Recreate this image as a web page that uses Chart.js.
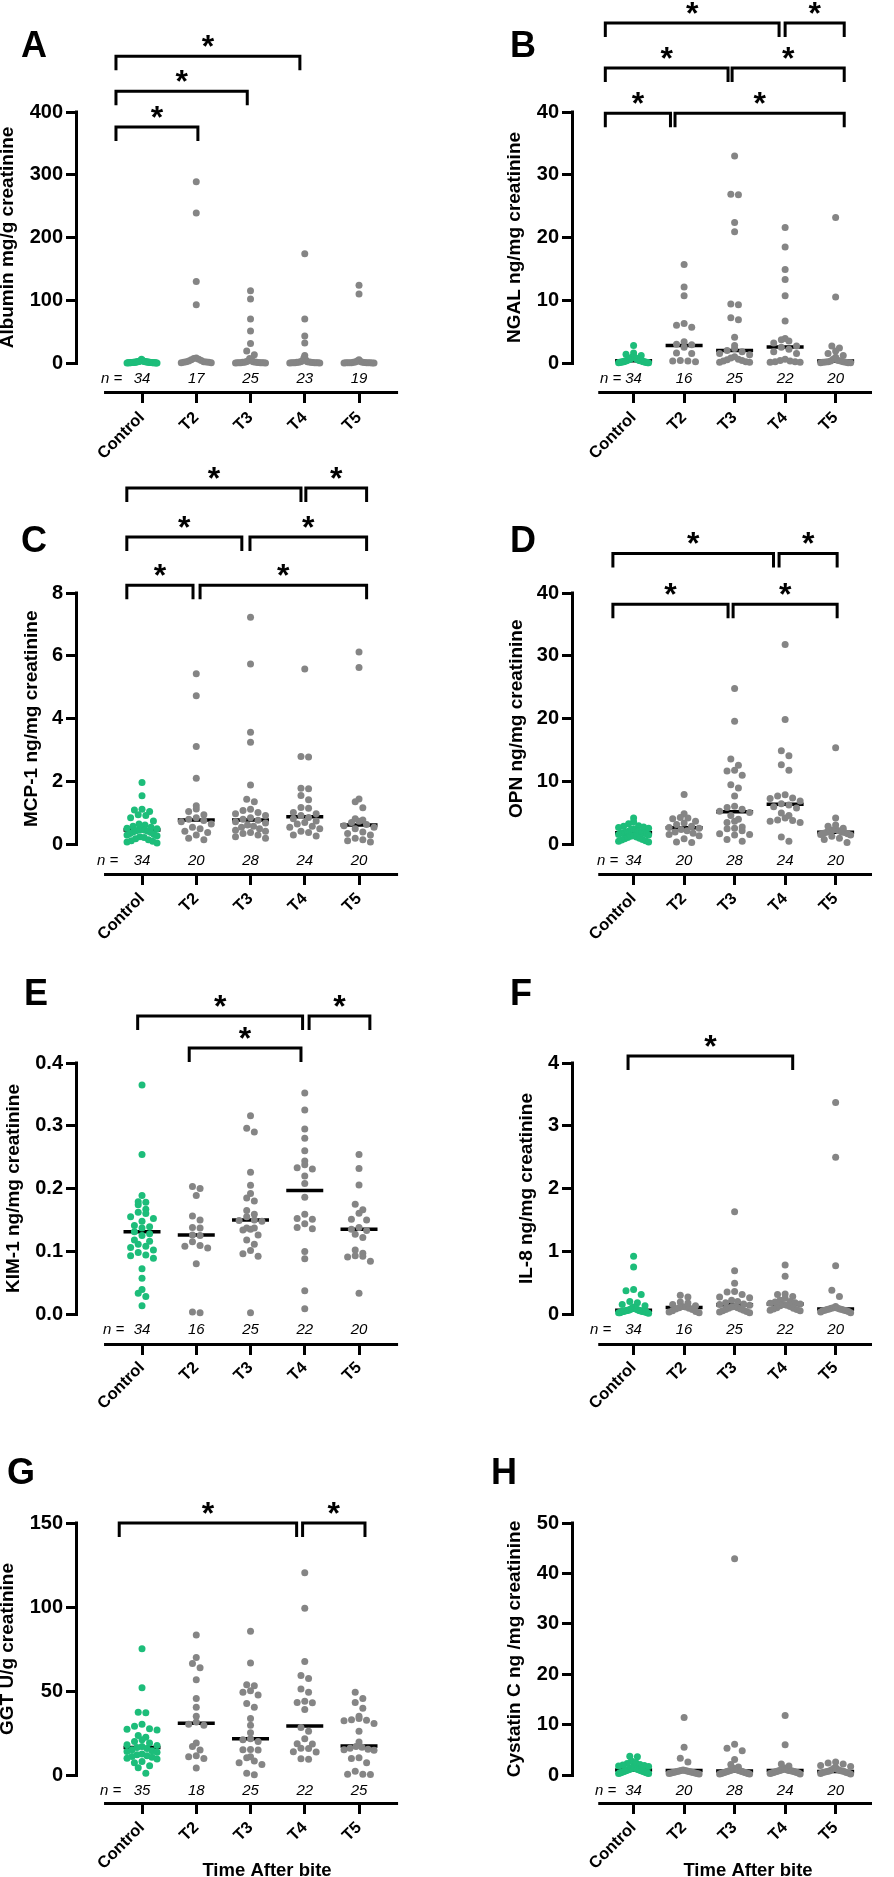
<!DOCTYPE html>
<html>
<head>
<meta charset="utf-8">
<script src="https://cdn.jsdelivr.net/npm/chart.js@4.4.1/dist/chart.umd.min.js"></script>
<style>
html,body{margin:0;padding:0;background:#fff;}
body{width:894px;height:1877px;position:relative;overflow:hidden;}
canvas{position:absolute;}
</style>
</head>
<body>
<script>
// ---------------- DATA ----------------
const categories = ['Control', 'T2', 'T3', 'T4', 'T5'];

// A – Albumin mg/g creatinine
const albuminValues = [
  [6,4,3.5,3,3,2.5,2.5,2,2,2,1.8,1.5,1.5,1.5,1.2,1.2,1,1,1,0.8,0.8,0.7,0.6,0.5,0.5,0.4,0.4,0.3,0.3,0.2,0.2,0.1,0.1,0.1],
  [289,239,130,93,8,7,6,5,4,3,2,2,1.5,1,1,0.5,0.3],
  [115,102,70,51,31,19,13,7,5,3,2,2,1.5,1,1,1,0.8,0.5,0.5,0.5,0.3,0.3,0.2,0.1,0.1],
  [174,70,43,32,12,8,5,3,2,2,1.5,1,1,1,0.8,0.5,0.5,0.4,0.3,0.3,0.2,0.1,0.1],
  [124,110,5,3,2,1.5,1,1,0.8,0.5,0.5,0.4,0.3,0.3,0.2,0.2,0.1,0.1,0.1]
];
const albuminMedians = [null, null, null, null, null];
const albuminN = [34, 17, 25, 23, 19];
const albuminTicks = [0, 100, 200, 300, 400];
const albuminTickLabels = ['0', '100', '200', '300', '400'];

// B – NGAL ng/mg creatinine
const ngalValues = [
  [2.8,1.6,1.4,1.2,1.0,1.0,0.9,0.8,0.8,0.7,0.6,0.6,0.5,0.5,0.5,0.4,0.4,0.4,0.3,0.3,0.3,0.3,0.2,0.2,0.2,0.2,0.15,0.1,0.1,0.1,0.1,0.05,0.05,0.02],
  [15.7,12.1,10.7,6.3,6.0,5.7,3.4,3.0,2.9,2.5,1.6,1.5,0.4,0.3,0.3,0.2],
  [33,26.9,26.8,22.4,20.9,9.4,9.3,7.2,6.9,4.1,2.8,2.3,2.0,1.8,1.5,1.3,1.0,0.8,0.6,0.5,0.4,0.3,0.2,0.1,0.1],
  [21.6,18.5,14.9,13.3,10.7,6.7,3.9,3.7,3.5,3.2,2.7,2.5,2.2,1.8,1.5,0.6,0.4,0.3,0.2,0.2,0.1,0.1],
  [23.2,10.5,2.7,2.4,1.9,1.5,1.2,0.9,0.6,0.4,0.3,0.3,0.2,0.2,0.15,0.1,0.1,0.05,0.05,0.02]
];
const ngalMedians = [0.35, 2.8, 2.0, 2.55, 0.3];
const ngalN = [34, 16, 25, 22, 20];
const ngalTicks = [0, 10, 20, 30, 40];
const ngalTickLabels = ['0', '10', '20', '30', '40'];

// C – MCP-1 ng/mg creatinine
const mcpValues = [
  [1.97,1.55,1.12,1.10,1.05,0.95,0.92,0.85,0.75,0.65,0.62,0.58,0.55,0.52,0.50,0.48,0.47,0.45,0.44,0.42,0.40,0.38,0.35,0.32,0.30,0.28,0.25,0.22,0.18,0.15,0.12,0.10,0.08,0.05],
  [5.43,4.73,3.12,2.11,1.23,1.13,1.05,0.95,0.85,0.80,0.76,0.72,0.65,0.55,0.50,0.42,0.38,0.30,0.20,0.15],
  [7.23,5.74,3.57,3.25,1.89,1.44,1.36,1.12,1.08,1.02,0.98,0.92,0.85,0.80,0.77,0.72,0.68,0.62,0.58,0.55,0.50,0.45,0.42,0.38,0.35,0.30,0.25,0.20],
  [5.58,2.80,2.78,1.79,1.77,1.56,1.42,1.18,1.15,1.02,0.98,0.92,0.86,0.82,0.75,0.70,0.65,0.58,0.55,0.50,0.42,0.38,0.30,0.27],
  [6.12,5.63,1.45,1.36,1.17,0.82,0.78,0.74,0.70,0.64,0.60,0.55,0.50,0.40,0.35,0.30,0.20,0.15,0.12,0.08]
];
const mcpMedians = [0.46, 0.78, 0.78, 0.88, 0.62];
const mcpN = [34, 20, 28, 24, 20];
const mcpTicks = [0, 2, 4, 6, 8];
const mcpTickLabels = ['0', '2', '4', '6', '8'];

// D – OPN ng/mg creatinine
const opnValues = [
  [4.2,3.6,3.3,3.0,2.9,2.8,2.7,2.6,2.5,2.4,2.3,2.2,2.1,2.0,2.0,1.9,1.9,1.85,1.8,1.8,1.7,1.6,1.5,1.4,1.3,1.2,1.1,1.0,0.9,0.8,0.7,0.6,0.5,0.4],
  [7.95,4.9,4.3,4.2,4.1,3.7,3.4,3.2,2.9,2.7,2.6,2.4,2.2,2.0,1.8,1.6,1.4,0.9,0.4,0.3],
  [24.8,19.6,13.6,12.6,11.8,11.7,11.0,9.5,9.0,7.7,6.1,5.9,5.6,5.3,5.1,4.6,4.0,3.7,3.5,2.8,2.6,2.5,2.2,1.7,1.6,1.5,0.8,0.5],
  [31.8,19.9,14.9,14.1,12.7,11.8,7.9,7.7,7.4,7.3,6.9,6.5,6.3,6.0,5.8,5.0,4.6,4.2,3.9,3.8,3.7,3.5,1.2,0.5],
  [15.4,4.2,3.1,2.9,2.6,2.4,2.3,2.2,2.1,2.0,1.95,1.9,1.8,1.7,1.6,1.5,1.3,1.0,0.8,0.3]
];
const opnMedians = [1.88, 2.65, 5.2, 6.4, 1.95];
const opnN = [34, 20, 28, 24, 20];
const opnTicks = [0, 10, 20, 30, 40];
const opnTickLabels = ['0', '10', '20', '30', '40'];

// E – KIM-1 ng/mg creatinine
const kimValues = [
  [0.365,0.254,0.189,0.179,0.178,0.174,0.167,0.162,0.160,0.155,0.152,0.148,0.141,0.139,0.137,0.131,0.128,0.125,0.118,0.116,0.111,0.108,0.106,0.102,0.098,0.094,0.093,0.089,0.072,0.057,0.039,0.033,0.028,0.013],
  [0.203,0.200,0.189,0.156,0.150,0.138,0.137,0.126,0.125,0.115,0.109,0.108,0.105,0.080,0.002,0.003],
  [0.316,0.296,0.290,0.226,0.205,0.192,0.185,0.180,0.165,0.159,0.155,0.150,0.149,0.148,0.137,0.137,0.135,0.134,0.126,0.118,0.111,0.101,0.096,0.092,0.002],
  [0.352,0.325,0.295,0.280,0.260,0.244,0.238,0.233,0.231,0.220,0.208,0.186,0.159,0.152,0.151,0.144,0.138,0.136,0.0996,0.088,0.037,0.0085],
  [0.254,0.232,0.2055,0.175,0.166,0.1605,0.151,0.150,0.138,0.133,0.127,0.122,0.102,0.097,0.093,0.092,0.091,0.084,0.033,0.135]
];
const kimMedians = [0.131, 0.126, 0.150, 0.197, 0.135];
const kimN = [34, 16, 25, 22, 20];
const kimTicks = [0, 0.1, 0.2, 0.3, 0.4];
const kimTickLabels = ['0.0', '0.1', '0.2', '0.3', '0.4'];

// F – IL-8 ng/mg creatinine
const il8Values = [
  [0.92,0.75,0.39,0.37,0.31,0.20,0.18,0.15,0.13,0.11,0.10,0.09,0.08,0.08,0.07,0.07,0.06,0.06,0.06,0.05,0.05,0.05,0.05,0.04,0.04,0.04,0.04,0.03,0.03,0.03,0.02,0.02,0.02,0.01],
  [0.30,0.27,0.19,0.175,0.15,0.13,0.12,0.11,0.10,0.09,0.08,0.07,0.05,0.04,0.03,0.02],
  [1.63,0.69,0.49,0.36,0.35,0.31,0.27,0.26,0.22,0.20,0.18,0.16,0.15,0.14,0.12,0.11,0.10,0.09,0.08,0.07,0.06,0.05,0.04,0.03,0.02],
  [0.78,0.60,0.32,0.31,0.28,0.25,0.22,0.20,0.19,0.18,0.17,0.16,0.15,0.14,0.13,0.12,0.10,0.09,0.08,0.07,0.06,0.05],
  [3.37,2.50,0.77,0.38,0.28,0.12,0.10,0.09,0.09,0.08,0.08,0.07,0.07,0.06,0.06,0.05,0.05,0.04,0.03,0.02]
];
const il8Medians = [0.06, 0.105, 0.148, 0.16, 0.08];
const il8N = [34, 16, 25, 22, 20];
const il8Ticks = [0, 1, 2, 3, 4];
const il8TickLabels = ['0', '1', '2', '3', '4'];

// G – GGT U/g creatinine
const ggtValues = [
  [75.1,52.0,37.4,37.0,30.2,29.0,27.6,27.2,26.8,23.5,22.5,21.0,20.0,19.0,18.0,17.5,17.0,16.3,15.8,15.0,14.5,14.0,13.5,12.5,12.0,11.5,11.0,10.5,10.0,9.5,8.0,7.3,5.5,4.3,1.0],
  [83.3,70.0,66.3,63.9,56.7,45.5,40.4,34.9,31.6,30.2,29.6,19.0,16.9,14.9,11.4,10.8,9.8,4.1],
  [85.5,66.7,53.7,53.1,50.2,49.2,47.6,42.5,40.4,33.7,29.6,25.1,21.6,21.0,20.0,14.9,15.0,15.2,10.8,10.2,8.4,7.3,6.3,0.2,1.0],
  [120.4,99.2,67.6,59.2,57.4,51.2,49.2,43.9,43.1,43.0,39.0,28.2,26.1,21.6,18.6,18.4,15.9,15.8,13.9,13.7,9.4,9.6],
  [49.2,45.5,43.1,39.8,34.9,33.7,32.9,32.6,32.3,30.6,26.1,19.6,17.0,16.5,15.9,15.3,15.0,14.8,10.2,9.8,7.3,2.2,0.5,0.4,0.3]
];
const ggtMedians = [16.3, 30.8, 21.6, 29.2, 17.3];
const ggtN = [35, 18, 25, 22, 25];
const ggtTicks = [0, 50, 100, 150];
const ggtTickLabels = ['0', '50', '100', '150'];

// H – Cystatin C ng /mg creatinine
const cysValues = [
  [3.7,3.6,2.8,2.5,2.3,2.1,2.0,1.9,1.8,1.7,1.6,1.5,1.4,1.3,1.2,1.2,1.1,1.1,1.0,1.0,0.9,0.9,0.8,0.8,0.7,0.7,0.6,0.6,0.5,0.5,0.4,0.4,0.3,0.3],
  [11.4,5.5,3.3,2.6,1.0,0.9,0.9,0.8,0.8,0.7,0.7,0.6,0.6,0.5,0.5,0.4,0.4,0.3,0.3,0.2],
  [42.9,6.1,5.3,4.8,3.1,2.1,1.6,1.3,1.2,1.1,1.0,1.0,0.9,0.9,0.8,0.8,0.7,0.7,0.6,0.6,0.5,0.5,0.4,0.4,0.3,0.3,0.2,0.2],
  [11.8,6.0,2.2,1.8,1.4,1.2,1.1,1.0,1.0,0.9,0.9,0.85,0.8,0.8,0.7,0.7,0.6,0.6,0.5,0.5,0.4,0.4,0.3,0.2],
  [2.6,2.4,2.2,1.9,1.7,1.5,1.3,1.1,1.0,0.9,0.8,0.8,0.7,0.7,0.6,0.5,0.5,0.4,0.3,0.2]
];
const cysMedians = [1.0, 0.9, 0.8, 0.9, 0.7];
const cysN = [34, 20, 28, 24, 20];
const cysTicks = [0, 10, 20, 30, 40, 50];
const cysTickLabels = ['0', '10', '20', '30', '40', '50'];

// ---------------- LAYOUT / STYLE ----------------
const FONT = '"Liberation Sans", Arial, Helvetica, sans-serif';
Chart.defaults.font.family = FONT;
const GREEN = '#1dbd7a';
const GREY = '#858585';
const SPACING = 54.25;        // px per category
const XMIN = -1.18, XMAX = 4.72;
const AXIS_FROM = -0.70, AXIS_TO = 4.72;

const rows = [
  {canvasTop: 0,    height: 480, top: 112,  zero: 363,   axis: 391,  labelPad: 5},
  {canvasTop: 440,  height: 510, top: 593,  zero: 844.5, axis: 873,  labelPad: 4},
  {canvasTop: 910,  height: 510, top: 1063, zero: 1314,  axis: 1343, labelPad: 3},
  {canvasTop: 1380, height: 497, top: 1523, zero: 1775,  axis: 1802, labelPad: 4}
];
const cols = [{canvasLeft: 0, axisX: 78}, {canvasLeft: 447, axisX: 574}];

const panels = [
  {letter:'A', row:0, col:0, title:'Albumin mg/g creatinine', values:albuminValues, medians:albuminMedians, n:albuminN, ticks:albuminTicks, tickLabels:albuminTickLabels,
   titleX:8, letterX:21, letterY:57, nX:101,
   brackets:[[-0.48,1.03,376],[-0.48,1.94,433],[-0.48,2.91,489]]},
  {letter:'B', row:0, col:1, title:'NGAL ng/mg creatinine', values:ngalValues, medians:ngalMedians, n:ngalN, ticks:ngalTicks, tickLabels:ngalTickLabels,
   titleX:515, letterX:510, letterY:57, nX:600,
   brackets:[[-0.56,0.73,39.8],[0.82,4.17,39.8],[-0.56,1.87,47.0],[1.95,4.17,47.0],[-0.56,2.88,54.2],[3.0,4.17,54.2]]},
  {letter:'C', row:1, col:0, title:'MCP-1 ng/mg creatinine', values:mcpValues, medians:mcpMedians, n:mcpN, ticks:mcpTicks, tickLabels:mcpTickLabels,
   titleX:32, letterX:21, letterY:552, nX:97,
   brackets:[[-0.28,0.94,8.25],[1.07,4.14,8.25],[-0.28,1.84,9.78],[1.99,4.14,9.78],[-0.28,2.93,11.34],[3.02,4.14,11.34]]},
  {letter:'D', row:1, col:1, title:'OPN ng/mg creatinine', values:opnValues, medians:opnMedians, n:opnN, ticks:opnTicks, tickLabels:opnTickLabels,
   titleX:517, letterX:510, letterY:552, nX:597,
   brackets:[[-0.41,1.87,38.2],[1.97,4.03,38.2],[-0.41,2.77,46.3],[2.88,4.03,46.3]]},
  {letter:'E', row:2, col:0, title:'KIM-1 ng/mg creatinine', values:kimValues, medians:kimMedians, n:kimN, ticks:kimTicks, tickLabels:kimTickLabels,
   titleX:14, letterX:24, letterY:1005, nX:103,
   brackets:[[0.87,2.93,0.424],[-0.08,2.96,0.475],[3.08,4.2,0.475]]},
  {letter:'F', row:2, col:1, title:'IL-8 ng/mg creatinine', values:il8Values, medians:il8Medians, n:il8N, ticks:il8Ticks, tickLabels:il8TickLabels,
   titleX:527, letterX:510, letterY:1005, nX:590,
   brackets:[[-0.11,3.15,4.11]]},
  {letter:'G', row:3, col:0, title:'GGT U/g creatinine', values:ggtValues, medians:ggtMedians, n:ggtN, ticks:ggtTicks, tickLabels:ggtTickLabels,
   titleX:8, letterX:7, letterY:1484, nX:100, xTitle:'Time After bite', xTitleX:267, xTitleY:1876,
   brackets:[[-0.42,2.85,150],[2.96,4.11,150]]},
  {letter:'H', row:3, col:1, title:'Cystatin C ng /mg creatinine', values:cysValues, medians:cysMedians, n:cysN, ticks:cysTicks, tickLabels:cysTickLabels,
   titleX:515, letterX:491, letterY:1484, nX:595, xTitle:'Time After bite', xTitleX:748, xTitleY:1876,
   brackets:[]}
];

// beeswarm-like horizontal spread of points sharing a group: rows of similar values,
// laid out symmetrically from the centre outwards
function spreadGroup(els) {
  const step = 7.6, maxHalf = 15, bin = 6.6;
  const sorted = els.slice().sort((a, b) => b.y - a.y);
  let i = 0;
  while (i < sorted.length) {
    const start = sorted[i].y;
    let j = i;
    while (j < sorted.length && start - sorted[j].y < bin) j++;
    const row = sorted.slice(i, j).sort((a, b) => a.y - b.y);
    const k = row.length;
    const sp = k > 1 ? Math.min(step, 2 * maxHalf / (k - 1)) : 0;
    const slots = [];
    for (let s = 0; s < k; s++) slots.push((s - (k - 1) / 2) * sp);
    slots.sort((a, b) => Math.abs(a) - Math.abs(b) || a - b);
    row.forEach((el, idx) => { el.x = el.x + slots[idx]; });
    i = j;
  }
}

function makePlugin(p, row, col) {
  return {
    id: 'prism' + p.letter,
    afterDatasetsUpdate(chart) {
      chart.data.datasets.forEach((ds, di) => {
        if (!ds.swarm) return;
        const meta = chart.getDatasetMeta(di);
        const groups = {};
        meta.data.forEach((el, i) => {
          const g = ds.data[i].x;
          (groups[g] = groups[g] || []).push(el);
        });
        Object.values(groups).forEach(spreadGroup);
      });
    },
    afterDraw(chart) {
      const {ctx, chartArea} = chart;
      const x = chart.scales.x, y = chart.scales.y;
      const ox = col.canvasLeft, oy = row.canvasTop;
      const ymax = p.ticks[p.ticks.length - 1];
      const yTop = y.getPixelForValue(ymax), yZero = y.getPixelForValue(0);
      ctx.save();
      ctx.strokeStyle = '#000';
      ctx.fillStyle = '#000';
      ctx.lineWidth = 3;
      ctx.lineCap = 'butt';
      ctx.lineJoin = 'miter';
      // y axis line
      ctx.beginPath();
      ctx.moveTo(chartArea.left - 1.5, yTop - 1.5);
      ctx.lineTo(chartArea.left - 1.5, yZero + 1.5);
      ctx.stroke();
      // detached x axis line
      ctx.beginPath();
      ctx.moveTo(x.getPixelForValue(AXIS_FROM), chartArea.bottom + 1.5);
      ctx.lineTo(x.getPixelForValue(AXIS_TO), chartArea.bottom + 1.5);
      ctx.stroke();
      // significance brackets + stars
      ctx.font = 'bold 32px ' + FONT;
      ctx.textAlign = 'center';
      ctx.textBaseline = 'alphabetic';
      p.brackets.forEach(([a, b, lv]) => {
        const x1 = x.getPixelForValue(a), x2 = x.getPixelForValue(b), yy = y.getPixelForValue(lv);
        ctx.beginPath();
        ctx.moveTo(x1, yy + 14);
        ctx.lineTo(x1, yy);
        ctx.lineTo(x2, yy);
        ctx.lineTo(x2, yy + 14);
        ctx.stroke();
        ctx.fillText('*', (x1 + x2) / 2, yy + 1);
      });
      // n labels
      ctx.font = 'italic 15px ' + FONT;
      ctx.textBaseline = 'middle';
      ctx.textAlign = 'left';
      const ny = yZero + 16;
      ctx.fillText('n =', p.nX - ox, ny);
      ctx.textAlign = 'center';
      p.n.forEach((v, i) => ctx.fillText(String(v), x.getPixelForValue(i), ny));
      // y title
      ctx.save();
      ctx.font = 'bold 19px ' + FONT;
      ctx.translate(p.titleX - ox, (yTop + yZero) / 2);
      ctx.rotate(-Math.PI / 2);
      ctx.textAlign = 'center';
      ctx.textBaseline = 'middle';
      ctx.fillText(p.title, 0, 0);
      ctx.restore();
      // x title
      if (p.xTitle) {
        ctx.font = 'bold 18.5px ' + FONT;
        ctx.textAlign = 'center';
        ctx.textBaseline = 'alphabetic';
        ctx.fillText(p.xTitle, p.xTitleX - ox, p.xTitleY - oy);
      }
      // panel letter
      ctx.font = 'bold 36px ' + FONT;
      ctx.textAlign = 'left';
      ctx.textBaseline = 'alphabetic';
      ctx.fillText(p.letter, p.letterX - ox, p.letterY - oy);
      ctx.restore();
    }
  };
}

panels.forEach(p => {
  const row = rows[p.row], col = cols[p.col];
  const W = 447, H = row.height;
  const cv = document.createElement('canvas');
  cv.width = W; cv.height = H;
  cv.style.left = col.canvasLeft + 'px';
  cv.style.top = row.canvasTop + 'px';
  cv.style.width = W + 'px';
  cv.style.height = H + 'px';
  document.body.appendChild(cv);

  const areaLeft = col.axisX - col.canvasLeft;
  const areaTop = row.top - row.canvasTop;
  const areaBottom = row.axis - row.canvasTop;
  const zeroPx = row.zero - row.canvasTop;
  const areaRight = areaLeft + (XMAX - XMIN) * SPACING;
  const ymax = p.ticks[p.ticks.length - 1];
  const ymin = -ymax * (areaBottom - zeroPx) / (zeroPx - areaTop);

  const medianData = p.medians.map((m, i) => ({x: i, y: m}));
  const ctrlData = p.values[0].map(v => ({x: 0, y: v}));
  const otherData = [];
  p.values.slice(1).forEach((g, gi) => g.forEach(v => otherData.push({x: gi + 1, y: v})));

  new Chart(cv, {
    type: 'scatter',
    data: {
      datasets: [
        {label: 'median', data: medianData, pointStyle: 'line', pointRadius: 18.5,
         pointBorderWidth: 3.5, pointBorderColor: '#000', pointBackgroundColor: '#000', order: 3},
        {label: 'Control', data: ctrlData, pointRadius: 3.5, pointBorderWidth: 0,
         pointBackgroundColor: GREEN, pointBorderColor: GREEN, swarm: true, order: 1},
        {label: 'After bite', data: otherData, pointRadius: 3.5, pointBorderWidth: 0,
         pointBackgroundColor: GREY, pointBorderColor: GREY, swarm: true, order: 1}
      ]
    },
    options: {
      responsive: false,
      animation: false,
      devicePixelRatio: 1,
      events: [],
      layout: {padding: {left: 0, top: areaTop, right: W - areaRight, bottom: 0}},
      plugins: {legend: {display: false}, tooltip: {enabled: false}, title: {display: false}},
      scales: {
        x: {
          type: 'linear', min: XMIN, max: XMAX,
          afterBuildTicks: s => { s.ticks = categories.map((c, i) => ({value: i})); },
          afterFit: s => { s.height = H - areaBottom; },
          ticks: {callback: (v, i) => categories[i], minRotation: 45, maxRotation: 45, autoSkip: false,
                  padding: row.labelPad, color: '#000', font: {size: 16.5, weight: 'bold'}},
          grid: {drawOnChartArea: false, drawTicks: true, tickLength: 12, tickWidth: 3, tickColor: '#000'},
          border: {display: false}
        },
        y: {
          type: 'linear', min: ymin, max: ymax,
          afterBuildTicks: s => { s.ticks = p.ticks.map(v => ({value: v})); },
          afterFit: s => { s.width = areaLeft; },
          ticks: {callback: (v, i) => p.tickLabels[i], padding: 3, color: '#000', font: {size: 20, weight: 'bold'}},
          grid: {drawOnChartArea: false, drawTicks: true, tickLength: 12, tickWidth: 3, tickColor: '#000'},
          border: {display: false}
        }
      }
    },
    plugins: [makePlugin(p, row, col)]
  });
});
</script>
</body>
</html>
